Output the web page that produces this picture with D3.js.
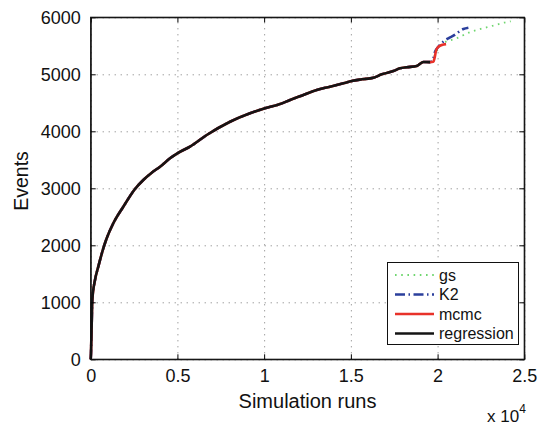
<!DOCTYPE html>
<html>
<head>
<meta charset="utf-8">
<script src="https://cdn.jsdelivr.net/npm/d3@7"></script>
<style>
  body { margin: 0; background: #fff; }
  svg { display: block; font-family: "Liberation Sans", Arial, sans-serif; }
</style>
</head>
<body>
<svg width="539" height="425"></svg>
<script>
// shared part of all four curves (they overlap up to ~1.95e4 runs)
const baseRuns   = [0, 17, 58, 92, 248, 438, 727, 923, 1303, 1880, 2555, 3033, 3518, 4000, 4573, 4994, 5727, 6690, 8034, 9187, 10052, 10917, 11494, 12261, 13030, 13800, 14568, 15052, 15629, 16298, 16782, 17451, 17837, 18224, 18800, 18893, 19181, 19568];
const baseEvents = [0, 105, 632, 1040, 1390, 1625, 1947, 2123, 2386, 2677, 2988, 3146, 3274, 3379, 3526, 3614, 3730, 3935, 4168, 4316, 4404, 4479, 4549, 4637, 4725, 4782, 4842, 4882, 4912, 4940, 5000, 5058, 5105, 5123, 5146, 5163, 5216, 5214];

// tails where the curves part
const gsRuns     = [19700, 19856, 20100, 20335, 21107, 21874, 22261, 23126, 24083, 24220];
const gsEvents   = [5225, 5350, 5480, 5544, 5632, 5740, 5777, 5847, 5923, 5930];
const k2Runs     = [19700, 19856, 20046, 20623, 20911, 21488, 21776];
const k2Events   = [5225, 5397, 5484, 5632, 5677, 5795, 5818];
const mcmcRuns   = [19758, 19830, 19900, 19990, 20242, 20490];
const mcmcEvents = [5221, 5290, 5400, 5466, 5514, 5530];
const regRuns    = [];
const regEvents  = [];

const seriesNames = ["gs", "K2", "mcmc", "regression"];
const xTicks = [0, 5000, 10000, 15000, 20000, 25000];
const yTicks = [0, 1000, 2000, 3000, 4000, 5000, 6000];

const plotLeft = 90.7, plotRight = 524.3, plotTop = 17.3, plotBottom = 359.3;

let svg = d3.select("svg");

let xScale = d3.scaleLinear().domain([0, 25000]).range([plotLeft, plotRight]);
let yScale = d3.scaleLinear().domain([0, 6000]).range([plotBottom, plotTop]);

function pts(runs, events) {
  return baseRuns.map((r, i) => [r, baseEvents[i]])
    .concat(runs.map((r, i) => [r, events[i]]));
}

const styles = {
  gs:         { color: "#6fd66f", width: 1.8, dash: "1.6,4.6" },
  K2:         { color: "#2b3f9c", width: 2.6, dash: "10,3.5,1.5,3.5" },
  mcmc:       { color: "#e8322a", width: 2.6, dash: null },
  regression: { color: "#141414", width: 2.6, dash: null }
};
const data = {
  gs: pts(gsRuns, gsEvents),
  K2: pts(k2Runs, k2Events),
  mcmc: pts(mcmcRuns, mcmcEvents),
  regression: pts(regRuns, regEvents)
};

// grid
svg.append("g")
    .attr("transform", `translate(0, ${plotBottom})`)
  .call(d3.axisBottom(xScale).tickValues(xTicks).tickSize(-(plotBottom - plotTop)).tickFormat(""))
  .call(g => g.select(".domain").remove())
  .selectAll("line")
    .attr("stroke", "#777")
    .attr("stroke-dasharray", "1,5");

svg.append("g")
    .attr("transform", `translate(${plotLeft}, 0)`)
  .call(d3.axisLeft(yScale).tickValues(yTicks).tickSize(-(plotRight - plotLeft)).tickFormat(""))
  .call(g => g.select(".domain").remove())
  .selectAll("line")
    .attr("stroke", "#777")
    .attr("stroke-dasharray", "1,5");

// curves
let line = d3.line()
    .x(d => xScale(d[0]))
    .y(d => yScale(d[1]))
    .curve(d3.curveMonotoneX);
seriesNames.forEach(name => {
  let s = styles[name];
  svg.append("path")
      .datum(data[name])
      .attr("d", line)
      .attr("fill", "none")
      .attr("stroke", s.color)
      .attr("stroke-width", s.width)
      .attr("stroke-linejoin", "round")
      .attr("stroke-dasharray", s.dash);
});

// axes, ticks pointing inward
svg.append("g")
    .attr("transform", `translate(0, ${plotBottom})`)
  .call(d3.axisBottom(xScale).tickValues(xTicks).tickSize(-5).tickSizeOuter(0).tickPadding(10)
        .tickFormat(d => d / 10000));
svg.append("g")
    .attr("transform", `translate(${plotLeft}, 0)`)
  .call(d3.axisLeft(yScale).tickValues(yTicks).tickSize(-5).tickSizeOuter(0).tickPadding(10)
        .tickFormat(d3.format("d")));
svg.append("g")
    .attr("transform", `translate(0, ${plotTop})`)
  .call(d3.axisTop(xScale).tickValues(xTicks).tickSize(-5).tickSizeOuter(0).tickFormat(""));
svg.append("g")
    .attr("transform", `translate(${plotRight}, 0)`)
  .call(d3.axisRight(yScale).tickValues(yTicks).tickSize(-5).tickSizeOuter(0).tickFormat(""));

svg.selectAll(".tick text")
    .attr("fill", "#111")
    .style("font-size", "18px")
    .style("font-family", "'Liberation Sans', Arial, sans-serif");
svg.selectAll(".domain").attr("stroke", "#111");

svg.append("rect")
    .attr("x", plotLeft).attr("y", plotTop)
    .attr("width", plotRight - plotLeft).attr("height", plotBottom - plotTop)
    .attr("fill", "none")
    .attr("stroke", "#111")
    .attr("stroke-width", 1.2);

// axis titles
svg.append("text")
    .attr("x", (plotLeft + plotRight) / 2)
    .attr("y", 408)
    .attr("text-anchor", "middle")
    .attr("fill", "#111")
    .style("font-size", "20px")
    .text("Simulation runs");

svg.append("text")
    .attr("transform", "translate(28, 181) rotate(-90)")
    .attr("text-anchor", "middle")
    .attr("fill", "#111")
    .style("font-size", "19.5px")
    .text("Events");

let mult = svg.append("text")
    .attr("x", 487)
    .attr("y", 422)
    .attr("fill", "#111")
    .style("font-size", "17px");
mult.append("tspan").text("x 10");
mult.append("tspan").attr("dy", -9).style("font-size", "12px").text("4");

// legend
let legend = svg.append("g");
legend.append("rect")
    .attr("x", 387.5).attr("y", 262.5)
    .attr("width", 131).attr("height", 82)
    .attr("fill", "#fff")
    .attr("stroke", "#111")
    .attr("stroke-width", 1);

let legendY = d3.scalePoint().domain(seriesNames).range([275, 333.5]);
seriesNames.forEach(name => {
  let s = styles[name];
  let y = legendY(name);
  legend.append("line")
      .attr("x1", 395).attr("x2", 434)
      .attr("y1", y).attr("y2", y)
      .attr("stroke", s.color)
      .attr("stroke-width", s.width)
      .attr("stroke-dasharray", s.dash);
  legend.append("text")
      .attr("x", 439)
      .attr("y", y)
      .attr("dy", "0.35em")
      .attr("fill", "#111")
      .style("font-size", "16px")
      .text(name);
});
</script>
</body>
</html>
